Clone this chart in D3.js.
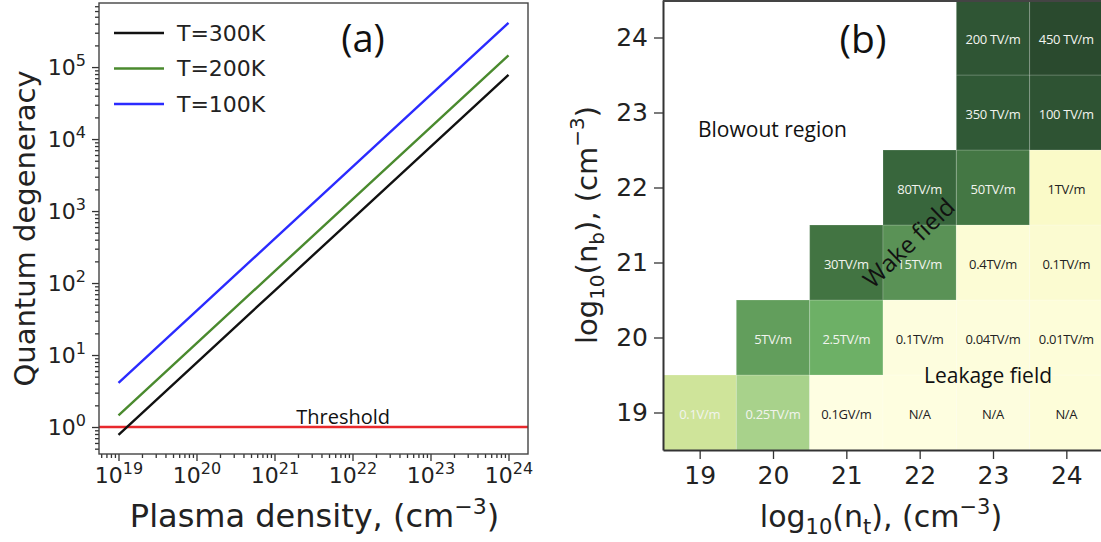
<!DOCTYPE html>
<meta charset="utf-8">
<style>
html,body{margin:0;}
body{background:#fff;}
svg{display:block;}
.axis text{font-family:"DejaVu Sans";fill:#222;}
.axis path,.axis line{stroke:#333;stroke-width:1.3px;}
.note{font-family:"Open Sans";fill:#111;}
.lbl{font-family:"DejaVu Sans";fill:#222;}
</style>
<script src="https://d3js.org/d3.v7.min.js"></script>
<body>
<script>

// ---- panel (a) data
var density = [1e19, 1e20, 1e21, 1e22, 1e23, 1e24];
var deg300 = [0.78, 7.8, 78, 780, 7800, 78000];
var deg200 = [1.45, 14.5, 145, 1450, 14500, 145000];
var deg100 = [4.1, 41, 410, 4100, 41000, 410000];
var seriesNames = ["T=300K", "T=200K", "T=100K"];
var seriesColors = ["#111", "#4a8a2e", "#2b2bff"];
var threshold = 1;
var xTicksA = [1e19, 1e20, 1e21, 1e22, 1e23, 1e24];
var yTicksA = [1e0, 1e1, 1e2, 1e3, 1e4, 1e5];

// ---- panel (b) data, rows are log10(nb) = 19..24, columns log10(nt) = 19..24
var ntLevels = [19, 20, 21, 22, 23, 24];
var nbLevels = [19, 20, 21, 22, 23, 24];
var fieldLabels = [
  ["0.1V/m", "0.25TV/m", "0.1GV/m", "N/A", "N/A", "N/A"],
  [null, "5TV/m", "2.5TV/m", "0.1TV/m", "0.04TV/m", "0.01TV/m"],
  [null, null, "30TV/m", "15TV/m", "0.4TV/m", "0.1TV/m"],
  [null, null, null, "80TV/m", "50TV/m", "1TV/m"],
  [null, null, null, null, "350 TV/m", "100 TV/m"],
  [null, null, null, null, "200 TV/m", "450 TV/m"]
];
var fieldShade = [
  [0.3, 0.45, 0, 0.005, 0.01, 0.02],
  [null, 0.66, 0.6, 0.01, 0.015, 0.02],
  [null, null, 0.8, 0.7, 0.03, 0.04],
  [null, null, null, 0.87, 0.79, 0.06],
  [null, null, null, null, 0.93, 0.96],
  [null, null, null, null, 0.95, 1]
];

var width = 1101, height = 542;

var svg = d3.select("body").append("svg")
    .attr("width", width)
    .attr("height", height);

// ================= panel (a)
var A = {left: 99, right: 528, top: 3, bottom: 454};

var xA = d3.scaleLog()
    .domain([Math.pow(10, 18.75), Math.pow(10, 24.25)])
    .range([A.left, A.right]);
var yA = d3.scaleLog()
    .domain([Math.pow(10, -0.375), Math.pow(10, 5.89)])
    .range([A.bottom, A.top]);

function minors(lo, hi) {
  var out = [];
  for (var e = lo; e <= hi; e++)
    for (var k = 2; k <= 9; k++) out.push(k * Math.pow(10, e));
  return out;
}
var xMin = xA.domain(), yMin = yA.domain();
var xMinor = minors(18, 24).filter(function(v){ return v > xMin[0] && v < xMin[1]; });
var yMinor = minors(-1, 5).filter(function(v){ return v > yMin[0] && v < yMin[1]; });

var ga = svg.append("g");

ga.append("clipPath").attr("id", "clipA")
  .append("rect")
    .attr("x", A.left).attr("y", A.top)
    .attr("width", A.right - A.left).attr("height", A.bottom - A.top);

// threshold
ga.append("line")
    .attr("x1", A.left).attr("x2", A.right)
    .attr("y1", yA(threshold)).attr("y2", yA(threshold))
    .attr("stroke", "#e8282c")
    .attr("stroke-width", 2.4);

ga.append("text")
    .attr("class", "note")
    .attr("x", xA(Math.pow(10, 21.88)))
    .attr("y", yA(threshold) - 3)
    .attr("text-anchor", "middle")
    .style("font-size", "20px")
    .text("Threshold");

var line = d3.line()
    .x(function(d){ return xA(d[0]); })
    .y(function(d){ return yA(d[1]); });

var series = [deg300, deg200, deg100];
series.forEach(function(s, i) {
  ga.append("path")
      .attr("clip-path", "url(#clipA)")
      .attr("d", line(density.map(function(n, j){ return [n, s[j]]; })))
      .attr("fill", "none")
      .attr("stroke", seriesColors[i])
      .attr("stroke-width", 2.4);
});

// axes
function supLabel(sel, base, supSize, lift) {
  sel.each(function(d) {
    var t = d3.select(this).text(null);
    t.append("tspan").text(base);
    t.append("tspan").style("font-size", supSize + "px").attr("dy", -lift)
      .text(Math.round(Math.log10(d)));
  });
}

var xAxA = ga.append("g").attr("class", "axis")
    .attr("transform", "translate(0," + A.bottom + ")")
    .call(d3.axisBottom(xA).tickValues(xTicksA).tickSize(7).tickSizeOuter(0).tickPadding(6));
xAxA.select(".domain").remove();
xAxA.selectAll(".tick text").style("font-size", "22px").call(supLabel, "10", 16, 9);

ga.append("g").attr("class", "axis")
    .attr("transform", "translate(0," + A.bottom + ")")
    .call(d3.axisBottom(xA).tickValues(xMinor).tickSize(4).tickFormat(""))
    .select(".domain").remove();

var yAxA = ga.append("g").attr("class", "axis")
    .attr("transform", "translate(" + A.left + ",0)")
    .call(d3.axisLeft(yA).tickValues(yTicksA).tickSize(7).tickSizeOuter(0).tickPadding(6));
yAxA.select(".domain").remove();
yAxA.selectAll(".tick text").style("font-size", "22px").call(supLabel, "10", 16, 9);

ga.append("g").attr("class", "axis")
    .attr("transform", "translate(" + A.left + ",0)")
    .call(d3.axisLeft(yA).tickValues(yMinor).tickSize(4).tickFormat(""))
    .select(".domain").remove();

// frame
ga.append("rect")
    .attr("x", A.left).attr("y", A.top)
    .attr("width", A.right - A.left).attr("height", A.bottom - A.top)
    .attr("fill", "none")
    .attr("stroke", "#444")
    .attr("stroke-width", 1.4);

// legend
var leg = ga.append("g").attr("transform", "translate(114,33)");
seriesNames.forEach(function(name, i) {
  var row = leg.append("g").attr("transform", "translate(0," + (i * 35.5) + ")");
  row.append("line").attr("x1", 0).attr("x2", 50)
      .attr("stroke", seriesColors[i]).attr("stroke-width", 2.4);
  row.append("text").attr("class", "lbl")
      .attr("x", 63).attr("dy", "0.36em")
      .style("font-size", "22px")
      .text(name);
});

ga.append("text").attr("class", "note")
    .attr("x", 363).attr("y", 52)
    .attr("text-anchor", "middle")
    .style("font-size", "38px")
    .text("(a)");

// axis titles
var xt = ga.append("text").attr("class", "lbl")
    .attr("x", (A.left + A.right) / 2 + 1).attr("y", 527)
    .attr("text-anchor", "middle")
    .style("font-size", "32px");
xt.append("tspan").text("Plasma density, (cm");
xt.append("tspan").attr("dy", -13).style("font-size", "22px").text("\u22123");
xt.append("tspan").attr("dy", 13).text(")");

ga.append("text").attr("class", "lbl")
    .attr("transform", "translate(35," + ((A.top + A.bottom) / 2) + ") rotate(-90)")
    .attr("text-anchor", "middle")
    .style("font-size", "29px")
    .text("Quantum degeneracy");

// ================= panel (b)
var B = {left: 663, right: 1103, top: 0, bottom: 450};

var xB = d3.scaleLinear().domain([18.5, 24.5]).range([B.left, B.right]);
var yB = d3.scaleLinear().domain([18.5, 24.5]).range([B.bottom, B.top]);

var shade = d3.scaleLinear()
    .domain([0, 0.06, 0.3, 0.45, 0.6, 0.7, 0.8, 0.9, 1])
    .range(["#fefee2", "#fafac8", "#cfe49a", "#a8d28b", "#6db066", "#5a9256", "#427442", "#33603a", "#2a4a2e"])
    .clamp(true);

var gb = svg.append("g");

var cells = [];
nbLevels.forEach(function(nb, r) {
  ntLevels.forEach(function(nt, c) {
    if (fieldShade[r][c] !== null)
      cells.push({nt: nt, nb: nb, v: fieldShade[r][c], label: fieldLabels[r][c]});
  });
});

gb.selectAll("rect.cell")
    .data(cells)
  .enter().append("rect")
    .attr("class", "cell")
    .attr("x", function(d){ return xB(d.nt - 0.5); })
    .attr("y", function(d){ return yB(d.nb + 0.5); })
    .attr("width", function(d){ return xB(d.nt + 0.5) - xB(d.nt - 0.5); })
    .attr("height", function(d){ return yB(d.nb - 0.5) - yB(d.nb + 0.5); })
    .attr("fill", function(d){ return shade(d.v); })
    .attr("stroke", "rgba(255,255,255,0.18)")
    .attr("stroke-width", 1);

gb.selectAll("text.cellLabel")
    .data(cells)
  .enter().append("text")
    .attr("class", "cellLabel")
    .attr("x", function(d){ return xB(d.nt); })
    .attr("y", function(d){ return yB(d.nb) + 2; })
    .attr("dy", "0.35em")
    .attr("text-anchor", "middle")
    .style("font-family", "Open Sans")
    .style("font-size", "13px")
    .style("letter-spacing", "-0.3px")
    .attr("fill", function(d){ return d.v > 0.2 ? "#f2f4ee" : "#222"; })
    .text(function(d){ return d.label; });

var xAxB = gb.append("g").attr("class", "axis")
    .attr("transform", "translate(0," + B.bottom + ")")
    .call(d3.axisBottom(xB).tickValues(ntLevels).tickFormat(d3.format("d"))
      .tickSize(9).tickSizeOuter(0).tickPadding(7));
xAxB.selectAll(".tick text").style("font-size", "25px");

var yAxB = gb.append("g").attr("class", "axis")
    .attr("transform", "translate(" + B.left + ",0)")
    .call(d3.axisLeft(yB).tickValues(nbLevels).tickFormat(d3.format("d"))
      .tickSize(9).tickSizeOuter(0).tickPadding(6));
yAxB.selectAll(".tick text").style("font-size", "25px");
gb.selectAll(".axis .domain").style("stroke-width", "2px");

gb.append("line")
    .attr("x1", B.left).attr("x2", B.right)
    .attr("y1", B.top + 1).attr("y2", B.top + 1)
    .attr("stroke", "#444").attr("stroke-width", 2);

// notes
gb.append("text").attr("class", "note")
    .attr("x", 863).attr("y", 53)
    .attr("text-anchor", "middle")
    .style("font-size", "39px")
    .text("(b)");

gb.append("text").attr("class", "note")
    .attr("x", 698).attr("y", 137)
    .style("font-size", "21px")
    .text("Blowout region");

gb.append("text").attr("class", "note")
    .attr("x", 988).attr("y", 383)
    .attr("text-anchor", "middle")
    .style("font-size", "21px")
    .text("Leakage field");

gb.append("text").attr("class", "note")
    .attr("transform", "translate(909,243) rotate(-44)")
    .attr("text-anchor", "middle")
    .attr("dy", "0.35em")
    .style("font-size", "24px")
    .text("Wake field");

// axis titles
var xtb = gb.append("text").attr("class", "lbl")
    .attr("x", (B.left + B.right) / 2 - 2).attr("y", 527)
    .attr("text-anchor", "middle")
    .style("font-size", "30px");
xtb.append("tspan").text("log");
xtb.append("tspan").attr("dy", 7).style("font-size", "21px").text("10");
xtb.append("tspan").attr("dy", -7).text("(n");
xtb.append("tspan").attr("dy", 7).style("font-size", "21px").text("t");
xtb.append("tspan").attr("dy", -7).text("), (cm");
xtb.append("tspan").attr("dy", -13).style("font-size", "21px").text("\u22123");
xtb.append("tspan").attr("dy", 13).text(")");

var ytb = gb.append("text").attr("class", "lbl")
    .attr("transform", "translate(597," + ((B.top + B.bottom) / 2) + ") rotate(-90)")
    .attr("text-anchor", "middle")
    .style("font-size", "29px");
ytb.append("tspan").text("log");
ytb.append("tspan").attr("dy", 7).style("font-size", "20px").text("10");
ytb.append("tspan").attr("dy", -7).text("(n");
ytb.append("tspan").attr("dy", 7).style("font-size", "20px").text("b");
ytb.append("tspan").attr("dy", -7).text("), (cm");
ytb.append("tspan").attr("dy", -13).style("font-size", "20px").text("\u22123");
ytb.append("tspan").attr("dy", 13).text(")");

</script>
</body>
